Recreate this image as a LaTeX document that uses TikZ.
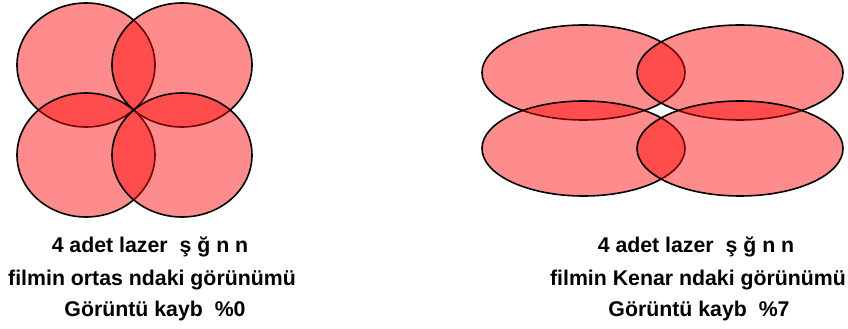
\documentclass[tikz,border=0pt]{standalone}
\usepackage{fontspec}
\setmainfont{Liberation Sans}
\begin{document}
\begin{tikzpicture}[x=1pt,y=-1pt,
  lens/.style={draw=black, line width=1.6pt, fill=red, fill opacity=0.45},
  caption/.style={font=\fontsize{21.3}{26}\selectfont\bfseries, inner sep=0pt, anchor=base}]
\useasboundingbox (0,0) rectangle (848,329);
% left group
\draw[lens] (86,65) ellipse [x radius=69, y radius=62];
\draw[lens] (182,65) ellipse [x radius=70, y radius=62];
\draw[lens] (86,155) ellipse [x radius=69, y radius=62];
\draw[lens] (182,155) ellipse [x radius=70, y radius=62];
% right group
\draw[lens] (583.5,72.5) ellipse [x radius=101.5, y radius=47.5];
\draw[lens] (740,72.5) ellipse [x radius=103, y radius=47.5];
\draw[lens] (583.5,148.5) ellipse [x radius=101.5, y radius=47.5];
\draw[lens] (740,148.5) ellipse [x radius=103, y radius=47.5];
% captions
\node[caption] (l1) at (150,252) {4 adet lazer\ \ ş ğ n n};
\node[caption] (l2) at (152,285) {filmin ortas ndaki görünümü};
\node[caption] (l3) at (155,316) {Görüntü kayb\ \ \%0};
\node[caption] (r1) at (696,252) {4 adet lazer\ \ ş ğ n n};
\node[caption] (r2) at (698,285) {filmin Kenar ndaki görünümü};
\node[caption] (r3) at (699,316) {Görüntü kayb\ \ \%7};
\end{tikzpicture}
\end{document}
